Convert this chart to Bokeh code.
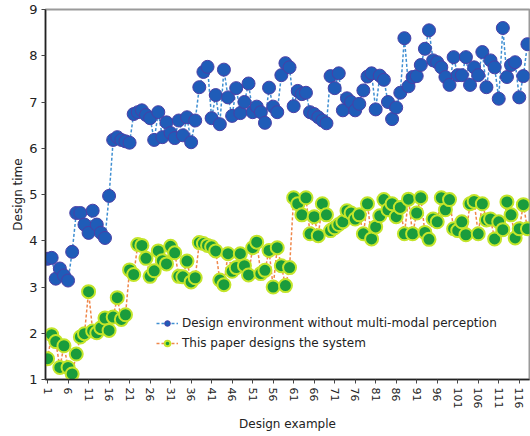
from bokeh.plotting import figure
from bokeh.models import FixedTicker, Legend, LegendItem, Range1d
from bokeh.embed import file_html
from bokeh.resources import INLINE

# Design examples 1..118
examples = list(range(1, 119))

without_mmp = [
    3.61, 3.63, 3.18, 3.40, 3.25, 3.14, 3.76, 4.60, 4.60, 4.35,
    4.17, 4.65, 4.35, 4.17, 4.06, 4.97, 6.18, 6.24, 6.18, 6.15,
    6.12, 6.74, 6.78, 6.82, 6.72, 6.65, 6.18, 6.78, 6.24, 6.56,
    6.33, 6.22, 6.60, 6.28, 6.67, 6.13, 6.60, 7.32, 7.65, 7.76,
    6.65, 7.15, 6.52, 7.70, 7.10, 6.70, 7.30, 6.76, 7.00, 7.40,
    6.78, 6.90, 6.78, 6.55, 7.31, 6.90, 6.78, 7.58, 7.84, 7.75,
    6.91, 7.24, 7.17, 7.20, 6.78, 6.74, 6.67, 6.60, 6.54, 7.56,
    7.30, 7.62, 6.82, 7.08, 7.00, 6.82, 6.96, 7.25, 7.55, 7.62,
    6.84, 7.57, 7.48, 7.00, 6.63, 6.88, 7.20, 8.38, 7.34, 7.54,
    7.56, 7.80, 8.15, 8.55, 7.90, 7.86, 7.75, 7.54, 7.37, 7.97,
    7.58, 7.58, 7.97, 7.37, 7.75, 7.58, 8.08, 7.32, 7.90, 7.75,
    7.07, 8.60, 7.54, 7.80, 7.86, 7.10, 7.56, 8.25,
]

this_paper = [
    1.45, 1.97, 1.82, 1.26, 1.73, 1.26, 1.12, 1.55, 1.92, 1.99,
    2.90, 2.05, 2.01, 2.12, 2.33, 2.06, 2.35, 2.77, 2.30, 2.40,
    3.37, 3.27, 3.92, 3.90, 3.62, 3.23, 3.35, 3.78, 3.57, 3.50,
    3.88, 3.74, 3.23, 3.22, 3.56, 3.11, 3.20, 3.96, 3.94, 3.90,
    3.87, 3.78, 3.15, 3.05, 3.72, 3.34, 3.42, 3.72, 3.46, 3.26,
    3.85, 3.97, 3.29, 3.36, 3.79, 3.00, 3.85, 3.46, 3.03, 3.42,
    4.93, 4.80, 4.56, 4.93, 4.15, 4.52, 4.11, 4.80, 4.56, 4.22,
    4.28, 4.35, 4.41, 4.65, 4.60, 4.47, 4.56, 4.15, 4.80, 4.04,
    4.30, 4.54, 4.89, 4.67, 4.80, 4.52, 4.72, 4.15, 4.90, 4.15,
    4.60, 4.93, 4.18, 4.03, 4.47, 4.41, 4.93, 4.67, 4.89, 4.26,
    4.22, 4.41, 4.13, 4.80, 4.85, 4.15, 4.80, 4.45, 4.47, 4.04,
    4.41, 4.24, 4.84, 4.56, 4.06, 4.26, 4.78, 4.26,
]

x_tick_values = list(range(1, 119, 5))
y_tick_values = [1, 2, 3, 4, 5, 6, 7, 8, 9]

series_names = ["Design environment without multi-modal perception",
                "This paper designs the system"]

FONT = "DejaVu Sans"

p = figure(width=530, height=436, output_backend="svg", toolbar_location=None,
           x_range=Range1d(0.5, len(examples) + 0.5), y_range=Range1d(1, 9),
           min_border_left=45, min_border_right=1, min_border_top=9,
           min_border_bottom=57)

p.xgrid.visible = False
p.ygrid.visible = False
p.outline_line_color = "#9a9a9a"
p.outline_line_width = 2
p.background_fill_color = "white"

# series 1
l1 = p.line(examples, without_mmp, line_color="#3f8fd2", line_width=1.5,
            line_dash="3 2")
s1 = p.scatter(examples, without_mmp, size=13, fill_color="#1f5cb8",
               line_color="#4b3fa6", line_width=1)
# series 2
l2 = p.line(examples, this_paper, line_color="#f0874a", line_width=1.5,
            line_dash="3 2")
s2 = p.scatter(examples, this_paper, size=13, fill_color="#1a9c3c",
               line_color="#c4e52a", line_width=2)

p.xaxis.ticker = FixedTicker(ticks=x_tick_values)
p.yaxis.ticker = FixedTicker(ticks=y_tick_values)
p.xaxis.major_label_orientation = "vertical"
for ax in (p.xaxis[0], p.yaxis[0]):
    ax.minor_tick_line_color = None
    ax.major_tick_in = 0
    ax.major_tick_out = 4
    ax.axis_line_color = "#222222"
    ax.axis_line_width = 1.5
    ax.major_tick_line_color = "#444444"
    ax.major_label_text_font = FONT
    ax.major_label_text_color = "#222222"
    ax.axis_label_text_font = FONT
    ax.axis_label_text_font_style = "normal"
    ax.axis_label_text_font_size = "12px"
    ax.axis_label_text_color = "#222222"
p.xaxis.major_label_text_font_size = "11px"
p.yaxis.major_label_text_font_size = "13px"
p.xaxis.axis_label = "Design example"
p.yaxis.axis_label = "Design time"
p.xaxis.axis_label_standoff = 6
p.yaxis.axis_label_standoff = 1
p.yaxis.major_label_standoff = 4
p.xaxis.major_label_standoff = 4

legend = Legend(items=[LegendItem(label=series_names[0], renderers=[l1, s1]),
                       LegendItem(label=series_names[1], renderers=[l2, s2])],
                location=(109, 27), background_fill_alpha=0,
                border_line_alpha=0, label_text_font=FONT,
                label_text_font_size="12px", label_text_color="#222222",
                glyph_width=22, glyph_height=14, spacing=6, padding=2,
                label_standoff=4, margin=0)
p.add_layout(legend)

open("out.html", "w").write(file_html(p, INLINE))
